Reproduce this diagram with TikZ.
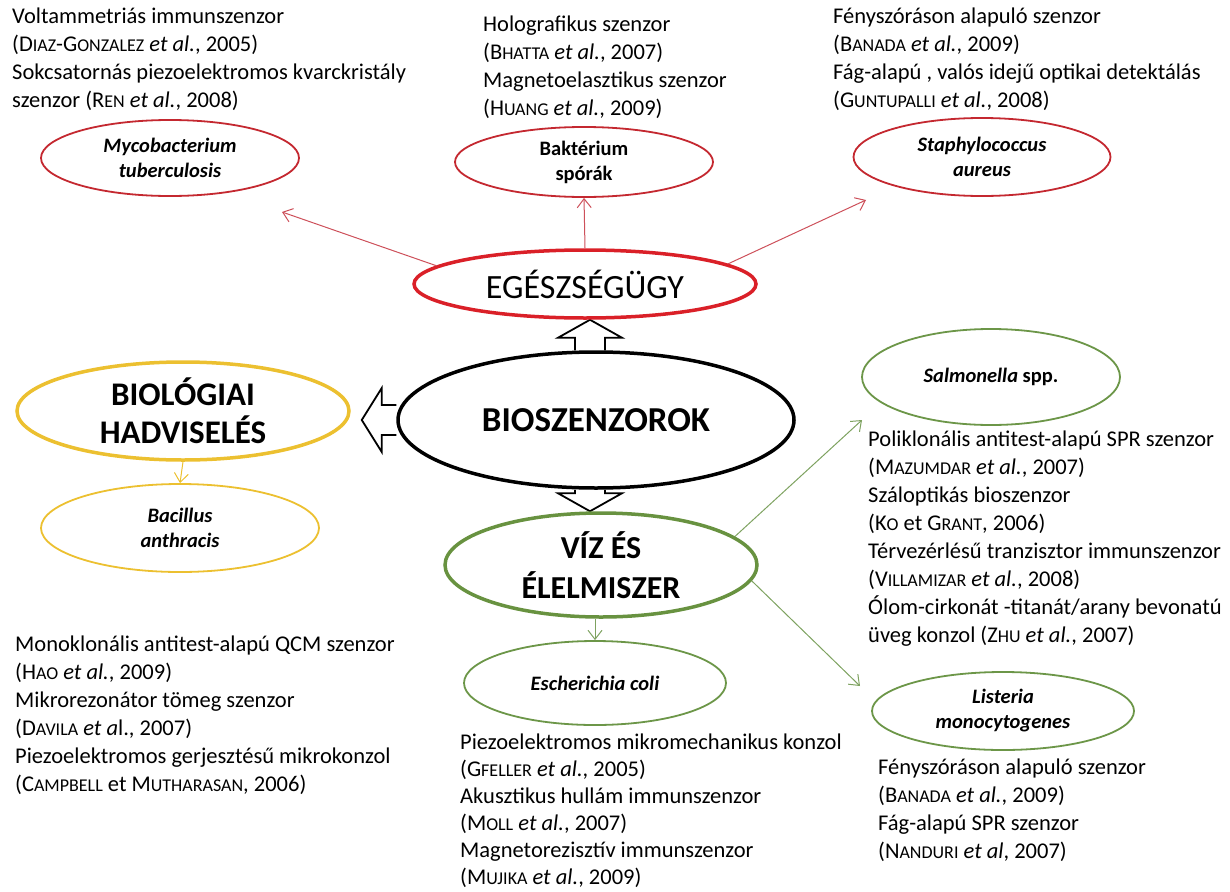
\documentclass[tikz,border=0pt]{standalone}
\usepackage{fontspec}
\setmainfont{Carlito}
\usetikzlibrary{shapes.geometric,arrows.meta,calc}
\definecolor{redthick}{RGB}{218,32,40}
\definecolor{redthin}{RGB}{196,40,48}
\definecolor{redline}{RGB}{205,80,90}
\definecolor{yel}{RGB}{236,192,48}
\definecolor{greenthick}{RGB}{104,146,64}
\definecolor{greenthin}{RGB}{108,150,72}
\definecolor{greenline}{RGB}{126,162,96}
\newcommand\smc[1]{{\fontsize{18}{18}\selectfont #1}}
\pgfdeclarelayer{bg}
\pgfsetlayers{bg,main}
\begin{document}
\begin{tikzpicture}[x=1pt,y=1pt,
  ell/.style={ellipse, draw, fill=white, inner sep=0pt, align=center},
  bigred/.style={ell, draw=redthick, line width=3.5pt},
  bigblack/.style={ell, draw=black, line width=3.5pt},
  bigyel/.style={ell, draw=yel, line width=3.5pt},
  biggreen/.style={ell, draw=greenthick, line width=3.5pt},
  smred/.style={ell, draw=redthin, line width=1.8pt},
  smyel/.style={ell, draw=yel, line width=1.8pt},
  smgreen/.style={ell, draw=greenthin, line width=1.8pt},
  lab/.style={font=\fontsize{20.5}{25}\selectfont\bfseries\itshape},
  labup/.style={font=\fontsize{20.5}{25}\selectfont\bfseries},
  big/.style={font=\fontsize{35}{40}\selectfont\bfseries},
  txt/.style={anchor=north west, align=left, inner sep=0pt, font=\fontsize{22.5}{28}\selectfont},
  txtb/.style={anchor=north west, align=left, inner sep=0pt, font=\fontsize{22.5}{27}\selectfont},
  thinarrow/.style={-{Straight Barb[length=9pt,width=14pt,line width=1pt]}, line width=1pt},
  blk/.style={draw=black, fill=white, line width=1.8pt, line join=miter}
]
\useasboundingbox (0,0) rectangle (1230,-891);

% main ellipses
\node[bigred, minimum width=342, minimum height=68, font=\fontsize{34}{40}\selectfont] (eg) at (585,-284) {EGÉSZSÉGÜGY};
\node[bigblack, minimum width=396, minimum height=136, big] (bio) at (596,-420) {BIOSZENZOROK};
\node[bigyel, minimum width=332, minimum height=98, font=\fontsize{33}{38}\selectfont\bfseries] (hadv) at (183,-411) {BIOLÓGIAI\\HADVISELÉS};
\node[biggreen, minimum width=312, minimum height=104, font=\fontsize{32}{40}\selectfont\bfseries] (viz) at (601,-565) {VÍZ ÉS\\ÉLELMISZER};

% pathogen ellipses
\node[smred, minimum width=258, minimum height=76, lab] (myco) at (170,-158) {Mycobacterium\\tuberculosis};
\node[smred, minimum width=258, minimum height=70, labup] (bakt) at (584,-162) {Baktérium\\spórák};
\node[smred, minimum width=257, minimum height=78, lab] (staph) at (982,-157) {Staphylococcus\\aureus};
\node[smyel, minimum width=278, minimum height=88, lab] (bac) at (180,-528) {Bacillus\\anthracis};
\node[smgreen, minimum width=262, minimum height=84, lab] (esch) at (595,-683) {Escherichia coli};
\node[smgreen, minimum width=258, minimum height=96, labup] (salm) at (991,-377) {\textit{Salmonella} spp.};
\node[smgreen, minimum width=262, minimum height=78, lab] (list) at (1003,-711) {Listeria\\monocytogenes};

% reference texts
\node[txt] (tA) at (12,-8) {Voltammetriás immunszenzor\\(D\smc{IAZ}-G\smc{ONZALEZ} \textit{et al.}, 2005)\\Sokcsatornás piezoelektromos kvarckristály\\szenzor (R\smc{EN} \textit{et al.}, 2008)};
\node[txt] (tB) at (483,-16) {Holografikus szenzor\\(B\smc{HATTA} \textit{et al.}, 2007)\\Magnetoelasztikus szenzor\\(H\smc{UANG} \textit{et al.}, 2009)};
\node[txt] (tC) at (833,-8) {Fényszóráson alapuló szenzor\\(B\smc{ANADA} \textit{et al.}, 2009)\\Fág-alapú , valós idejű optikai detektálás\\(G\smc{UNTUPALLI} \textit{et al.}, 2008)};
\node[txt] (tD) at (868,-431) {Poliklonális antitest-alapú SPR szenzor\\(M\smc{AZUMDAR} \textit{et al.}, 2007)\\Száloptikás bioszenzor\\(K\smc{O} et G\smc{RANT}, 2006)\\Térvezérlésű tranzisztor immunszenzor\\(V\smc{ILLAMIZAR} \textit{et al.}, 2008)\\Ólom-cirkonát -titanát/arany bevonatú\\üveg konzol (Z\smc{HU} \textit{et al.}, 2007)};
\node[txt] (tE) at (15,-636) {Monoklonális antitest-alapú QCM szenzor\\(H\smc{AO} \textit{et al.}, 2009)\\Mikrorezonátor tömeg szenzor\\(D\smc{AVILA} \textit{et a}l., 2007)\\Piezoelektromos gerjesztésű mikrokonzol\\(C\smc{AMPBELL} et M\smc{UTHARASAN}, 2006)};
\node[txtb] (tF) at (460,-734) {Piezoelektromos mikromechanikus konzol\\(G\smc{FELLER} \textit{et al.}, 2005)\\Akusztikus hullám immunszenzor\\(M\smc{OLL} \textit{et al.}, 2007)\\Magnetorezisztív immunszenzor\\(M\smc{UJIKA} \textit{et al.}, 2009)};
\node[txt] (tG) at (878,-759) {Fényszóráson alapuló szenzor\\(B\smc{ANADA} \textit{et al.}, 2009)\\Fág-alapú SPR szenzor\\(N\smc{ANDURI} \textit{et al}, 2007)};

% free arrow ends
\coordinate (m1) at (282,-212);
\coordinate (s1) at (866,-200);
\coordinate (sa1) at (862,-420);
\coordinate (li1) at (860,-686);

\begin{pgfonlayer}{bg}
% block arrows
\coordinate (ut) at (eg.south -| 590,0);
\coordinate (ub) at (bio.north -| 590,0);
\draw[blk] ($(ub)+(-15,0)$) -- ($(ut)+(-15,-18)$) -- ($(ut)+(-32,-18)$) -- (ut) -- ($(ut)+(32,-18)$) -- ($(ut)+(15,-18)$) -- ($(ub)+(15,0)$);
\coordinate (dt) at (viz.north -| 590,0);
\coordinate (db) at (bio.south -| 590,0);
\draw[blk] ($(db)+(-15,0)$) -- ($(dt)+(-15,18)$) -- ($(dt)+(-32,18)$) -- (dt) -- ($(dt)+(32,18)$) -- ($(dt)+(15,18)$) -- ($(db)+(15,0)$);
\coordinate (lt) at ($(hadv.east |- bio.west)+(11,0)$);
\draw[blk] ($(bio.west)+(0,-15)$) -- ($(lt)+(20,-15)$) -- ($(lt)+(20,-32)$) -- (lt) -- ($(lt)+(20,32)$) -- ($(lt)+(20,15)$) -- ($(bio.west)+(0,15)$);
\end{pgfonlayer}

% thin arrows
\draw[thinarrow, redline] (eg.173) -- (m1);
\draw[thinarrow, redline] (eg.north) -- (bakt.south);
\draw[thinarrow, redline] (eg.8) -- (s1);
\draw[thinarrow, yel] (hadv.south) -- (bac.north);
\draw[thinarrow, greenline] (viz.12) -- (sa1);
\draw[thinarrow, greenline] (viz.-6) -- (li1);
\draw[thinarrow, greenline] (viz.south -| esch.north) -- (esch.north);
\end{tikzpicture}
\end{document}
